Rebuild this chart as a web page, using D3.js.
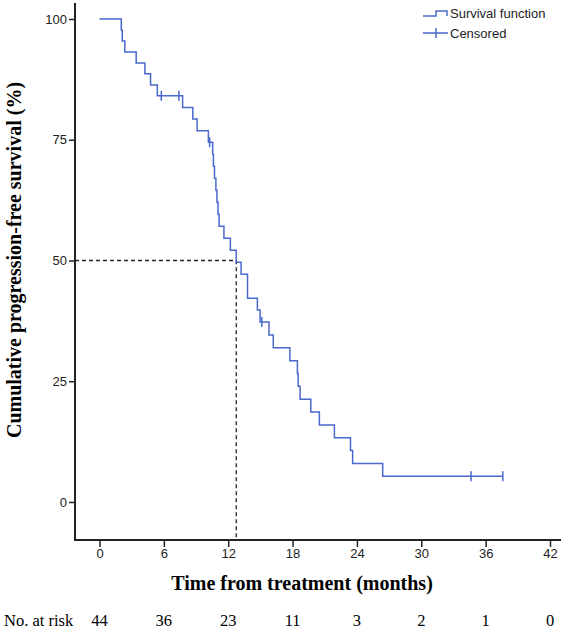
<!DOCTYPE html>
<html>
<head>
<meta charset="utf-8">
<script src="https://cdn.jsdelivr.net/npm/d3@7"></script>
<style>
  html, body { margin: 0; padding: 0; background: #fff; }
  svg { display: block; }
</style>
</head>
<body>
<svg id="chart" width="568" height="632"></svg>
<script>
// ---- data ----
const stepTimes = [0, 2.03, 2.12, 2.36, 3.42, 4.23, 4.76, 5.39, 7.75, 8.7, 9.1, 10.15,
  10.55, 10.62, 10.72, 10.85, 10.95, 11.05, 11.15, 11.6, 12.2, 12.75, 13.2, 13.8,
  14.72, 14.97, 15.8, 16.2, 17.75, 18.45, 18.52, 18.7, 19.7, 20.5, 21.9, 23.4, 23.6, 26.4];
const survival = [100, 97.73, 95.45, 93.18, 90.91, 88.64, 86.36, 84.09, 81.69, 79.29, 76.88, 74.48,
  72.00, 69.52, 67.04, 64.55, 62.07, 59.59, 57.11, 54.62, 52.14, 49.66, 47.17, 42.21,
  39.73, 37.25, 34.58, 31.92, 29.26, 26.60, 23.94, 21.28, 18.62, 15.96, 13.30, 10.64, 7.98, 5.32];
const censorTimes = [5.76, 7.4, 10.27, 15.13, 34.64, 37.6];
const lastFollowUp = 37.6;
const medianTime = 12.75;
const medianLevel = 50;
const xTicks = [0, 6, 12, 18, 24, 30, 36, 42];
const yTicks = [0, 25, 50, 75, 100];
const atRisk = [44, 36, 23, 11, 3, 2, 1, 0];
const legendLabels = ["Survival function", "Censored"];

// ---- layout ----
const svg = d3.select("#chart");
const axisX0 = 75, axisXEnd = 561, axisYTop = 3, axisYBottom = 540;
const x = d3.scaleLinear().domain([0, 42]).range([99.5, 550]);
const y = d3.scaleLinear().domain([0, 100]).range([502, 19]);
const blue = "#4a69cc";
const ink = "#222";

// axes lines
svg.append("path")
  .attr("d", `M${axisX0},${axisYTop}V${axisYBottom}H${axisXEnd}`)
  .attr("fill", "none").attr("stroke", ink).attr("stroke-width", 2);

// y axis ticks
const gy = svg.append("g").attr("transform", `translate(${axisX0},0)`)
  .call(d3.axisLeft(y).tickValues(yTicks).tickSize(6).tickPadding(2).tickFormat(d3.format("d")));
gy.select(".domain").remove();
gy.selectAll(".tick line").attr("stroke", ink).attr("stroke-width", 1.5);
gy.selectAll(".tick text").attr("fill", ink).style("font-family", "'Liberation Sans', Arial, sans-serif").style("font-size", "13px");

// x axis ticks
const gx = svg.append("g").attr("transform", `translate(0,${axisYBottom})`)
  .call(d3.axisBottom(x).tickValues(xTicks).tickSize(7).tickPadding(2).tickFormat(d3.format("d")));
gx.select(".domain").remove();
gx.selectAll(".tick line").attr("stroke", ink).attr("stroke-width", 1.5);
gx.selectAll(".tick text").attr("fill", ink).style("font-family", "'Liberation Sans', Arial, sans-serif").style("font-size", "13px");

// median dashed reference lines
svg.append("path")
  .attr("d", `M${axisX0},${y(medianLevel)}H${x(medianTime)}V${axisYBottom}`)
  .attr("fill", "none").attr("stroke", ink).attr("stroke-width", 1.3)
  .attr("stroke-dasharray", "4,3");

// KM curve
const pts = stepTimes.map((t, i) => [t, survival[i]]);
pts.push([lastFollowUp, survival[survival.length - 1]]);
const line = d3.line().x(d => x(d[0])).y(d => y(d[1])).curve(d3.curveStepAfter);
svg.append("path").datum(pts).attr("d", line)
  .attr("fill", "none").attr("stroke", blue).attr("stroke-width", 1.5);

// censor marks
const bis = d3.bisector(d => d).right;
const censorLevel = t => survival[bis(stepTimes, t) - 1];
svg.append("g").selectAll("line").data(censorTimes).join("line")
  .attr("x1", d => x(d)).attr("x2", d => x(d))
  .attr("y1", d => y(censorLevel(d)) - 5).attr("y2", d => y(censorLevel(d)) + 5)
  .attr("stroke", blue).attr("stroke-width", 1.5);

// legend
const lg = svg.append("g");
lg.append("path").attr("d", "M423,16H436V11H447V16")
  .attr("fill", "none").attr("stroke", blue).attr("stroke-width", 1.5);
lg.append("path").attr("d", "M423,33H448M436,28V38")
  .attr("fill", "none").attr("stroke", blue).attr("stroke-width", 1.5);
lg.selectAll("text").data(legendLabels).join("text")
  .attr("x", 450).attr("y", (d, i) => 18 + i * 20)
  .attr("fill", ink)
  .style("font-family", "'Liberation Sans', Arial, sans-serif").style("font-size", "13px")
  .text(d => d);

// axis titles
svg.append("text")
  .attr("x", 302).attr("y", 590).attr("text-anchor", "middle")
  .attr("fill", "#000")
  .style("font-family", "'Liberation Serif', 'Times New Roman', serif")
  .style("font-weight", "bold").style("font-size", "20px")
  .text("Time from treatment (months)");
svg.append("text")
  .attr("transform", "translate(21,260) rotate(-90)").attr("text-anchor", "middle")
  .attr("fill", "#000")
  .style("font-family", "'Liberation Serif', 'Times New Roman', serif")
  .style("font-weight", "bold").style("font-size", "20px")
  .text("Cumulative progression-free survival (%)");

// number at risk
svg.append("text").attr("x", 4).attr("y", 626)
  .attr("fill", "#000")
  .style("font-family", "'Liberation Serif', 'Times New Roman', serif").style("font-size", "16.5px")
  .text("No. at risk");
svg.append("g").selectAll("text").data(atRisk).join("text")
  .attr("x", (d, i) => x(xTicks[i])).attr("y", 626).attr("text-anchor", "middle")
  .attr("fill", "#000")
  .style("font-family", "'Liberation Serif', 'Times New Roman', serif").style("font-size", "16.5px")
  .text(d => d);
</script>
</body>
</html>
